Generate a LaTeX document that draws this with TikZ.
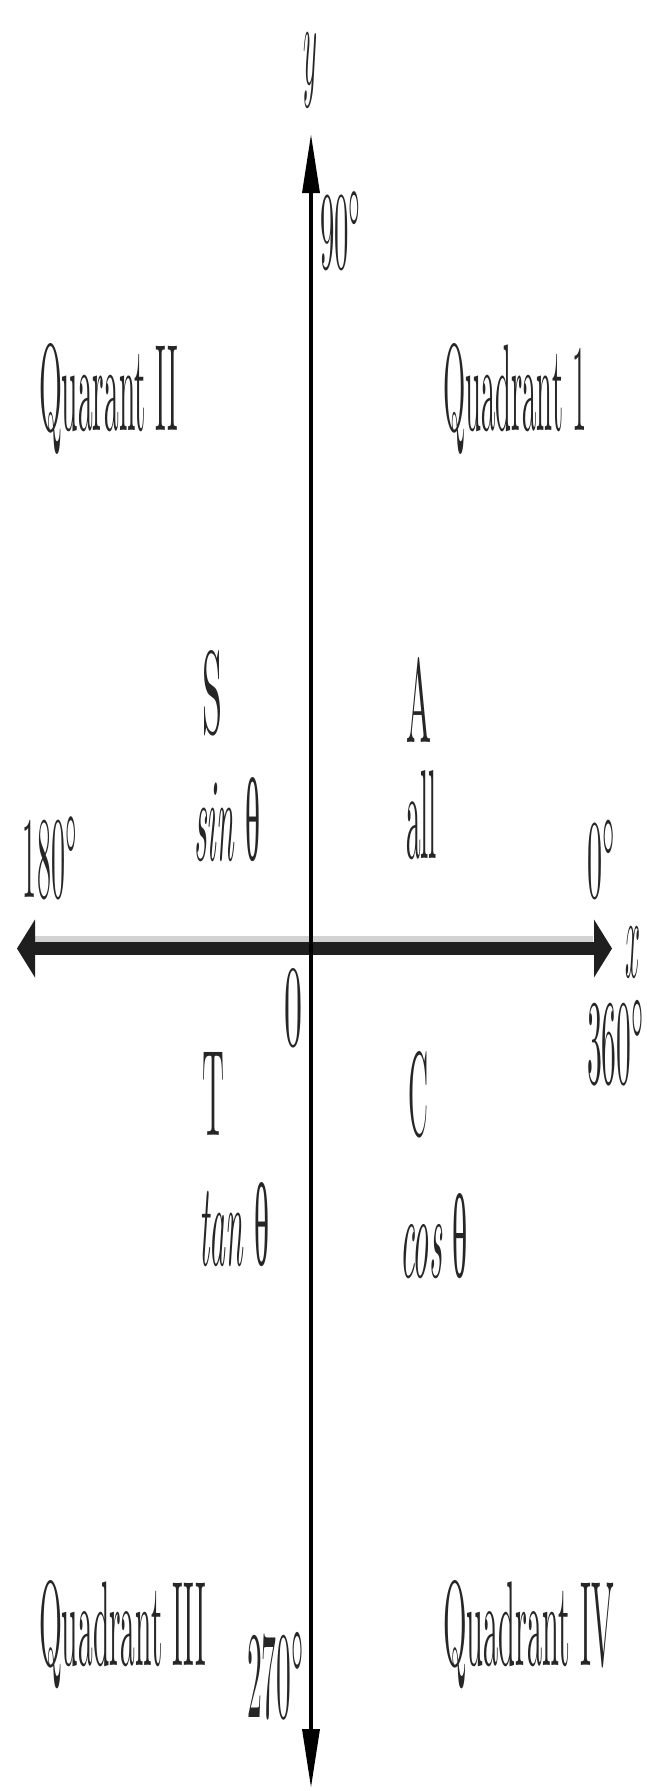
\documentclass[tikz,border=0pt]{standalone}
\usepackage{fontspec}
\usepackage{graphicx}
\usetikzlibrary{arrows.meta}
\newfontfamily\grk{Liberation Serif}
\newcommand{\thet}{{\grk θ}}
\newcommand{\qlbl}[6]{\node[lbl] (#1) at (#2,#3) {\resizebox{#4pt}{#5pt}{#6}};}
\begin{document}
\begin{tikzpicture}[x=1pt,y=-1pt,
  lbl/.style={inner sep=0pt,outer sep=0pt,anchor=base west,text=black!85}]
\useasboundingbox (0,0) rectangle (646,1791);
\fill[white] (0,0) rectangle (646,1791);
% axes
\coordinate (yt) at (311,135);
\coordinate (yb) at (311,1787);
\coordinate (xl) at (17,948.5);
\coordinate (xr) at (612,948.5);
\coordinate (gl) at (35,939);
\coordinate (gr) at (593,939);
\draw[gray!35, line width=6pt] (gl) -- (gr);
\draw[black!88, line width=13pt, {Triangle[length=18pt,width=58pt,line width=0pt]}-{Triangle[length=18pt,width=58pt,line width=0pt]}] (xl) -- (xr);
\draw[black, line width=3.5pt, {Triangle[length=58pt,width=18pt,line width=0pt]}-{Triangle[length=58pt,width=18pt,line width=0pt]}] (yb) -- (yt);
% labels
\qlbl{ylab}{303}{84}{14}{51}{$y$}
\qlbl{d90}{320}{268}{42}{76}{$90^\circ$}
\qlbl{q2}{39}{430}{139}{87}{Quarant II}
\qlbl{q1}{443}{430}{144}{87}{Quadrant 1}
\qlbl{S}{202}{733}{20}{83}{S}
\qlbl{sin}{194}{860}{66}{83}{\textit{sin} \thet}
\qlbl{A}{406}{742}{25}{85}{A}
\qlbl{all}{406}{858}{31}{88}{all}
\qlbl{d180}{23}{897}{55}{80}{$180^\circ$}
\qlbl{d0}{587}{897}{29}{77}{$0^\circ$}
\qlbl{xlab}{625}{977}{15}{50}{$x$}
\qlbl{d360}{587}{1083}{58}{83}{$360^\circ$}
\qlbl{orig}{284}{1045}{18}{77}{0}
\qlbl{T}{202}{1135}{22}{83}{T}
\qlbl{tan}{199}{1265}{70}{83}{\textit{tan} \thet}
\qlbl{C}{408}{1135}{20}{84}{C}
\qlbl{cos}{400}{1277}{68}{84}{\textit{cos} \thet}
\qlbl{q3}{39}{1665}{167}{85}{Quadrant III}
\qlbl{d270}{247}{1717}{58}{85}{$270^\circ$}
\qlbl{q4}{443}{1665}{171}{85}{Quadrant IV}
\end{tikzpicture}
\end{document}
